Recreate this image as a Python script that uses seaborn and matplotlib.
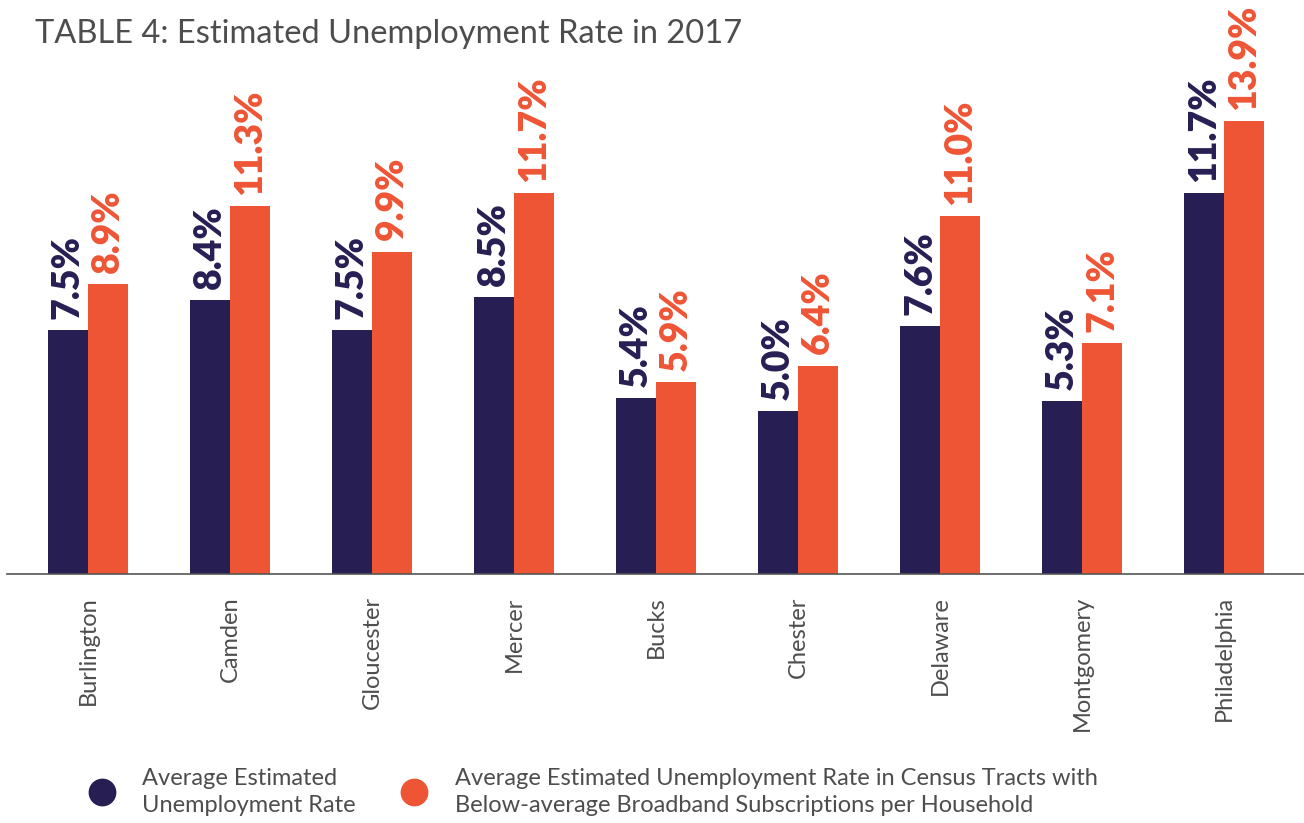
import matplotlib
matplotlib.use("Agg")
import matplotlib.pyplot as plt
from matplotlib.lines import Line2D
import seaborn as sns
import pandas as pd

counties = ['Burlington', 'Camden', 'Gloucester', 'Mercer', 'Bucks', 'Chester',
            'Delaware', 'Montgomery', 'Philadelphia']
avg_rate = [7.5, 8.4, 7.5, 8.5, 5.4, 5.0, 7.6, 5.3, 11.7]
below_rate = [8.9, 11.3, 9.9, 11.7, 5.9, 6.4, 11.0, 7.1, 13.9]
series_names = ['Average Estimated\nUnemployment Rate',
                'Average Estimated Unemployment Rate in Census Tracts with\n'
                'Below-average Broadband Subscriptions per Household']
title = 'TABLE 4: Estimated Unemployment Rate in 2017'

NAVY = '#271f54'
ORANGE = '#ee5535'
GREY = '#4d4d4d'

df = pd.DataFrame({
    'county': counties * 2,
    'rate': avg_rate + below_rate,
    'series': [series_names[0]] * len(counties) + [series_names[1]] * len(counties),
})

sns.set_theme(style='white')
plt.rcParams['font.family'] = ['Lato', 'DejaVu Sans']

W, H = 1304, 823
fig = plt.figure(figsize=(W / 100, H / 100), dpi=100)
ax = fig.add_axes([7 / W, (H - 574) / H, (W - 7) / W, 514 / H])

sns.barplot(data=df, x='county', y='rate', hue='series', order=counties,
            hue_order=series_names, palette=[NAVY, ORANGE], width=0.563,
            saturation=1, legend=False, linewidth=0, ax=ax)

for cont, col in zip(ax.containers, [NAVY, ORANGE]):
    labels = [f'{b.get_height():.1f}%' for b in cont]
    ax.bar_label(cont, labels=labels, rotation=90, padding=8, color=col,
                 fontsize=27, fontweight='heavy')

ax.set_xlim(-0.570, 8.563)
ax.set_ylim(0, 15.78)
for s in ['left', 'right', 'top']:
    ax.spines[s].set_visible(False)
ax.spines['bottom'].set_color('#555555')
ax.spines['bottom'].set_linewidth(1.2)
ax.set_yticks([])
ax.set_xlabel('')
ax.set_ylabel('')
ax.tick_params(axis='x', length=0, pad=16, labelsize=17, labelcolor=GREY,
               labelrotation=90)

fig.text(35 / W, 1 - 43 / H, title, fontsize=23.5, color=GREY, va='baseline',
         ha='left')

handles = [Line2D([], [], marker='o', linestyle='', markersize=19,
                  markerfacecolor=c, markeredgecolor=c) for c in [NAVY, ORANGE]]
leg = fig.legend(handles, series_names, loc='center left',
                 bbox_to_anchor=(88 / W, 1 - 792 / H), ncol=2, frameon=False,
                 fontsize=17, handlelength=1.15, handletextpad=1.15,
                 columnspacing=1.9, borderpad=0, borderaxespad=0)
for t in leg.get_texts():
    t.set_color(GREY)
    t.set_linespacing(1.4)

fig.savefig('out.png', dpi=100)
